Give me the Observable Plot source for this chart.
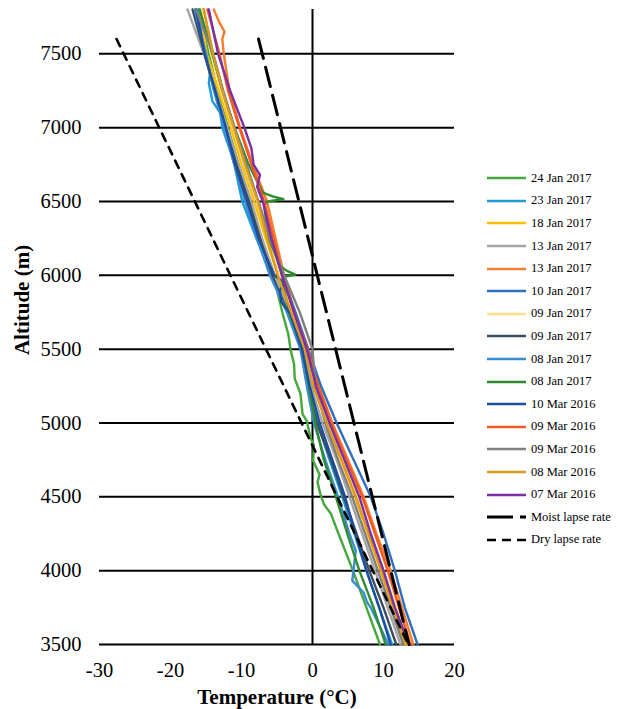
<!DOCTYPE html>
<html><head><meta charset="utf-8">
<script src="https://cdn.jsdelivr.net/npm/d3@7"></script>
<script src="https://cdn.jsdelivr.net/npm/@observablehq/plot@0.6"></script>
<style>
body{margin:0;background:#fff;}
#wrap{position:relative;width:618px;height:709px;overflow:hidden;}
#legend{position:absolute;left:487px;top:167px;font-family:"Liberation Serif",serif;font-size:12.5px;color:#000;}
.row{display:flex;align-items:center;height:22.6px;white-space:nowrap;}
.row svg{margin-right:4px;display:block;}
</style></head>
<body><div id="wrap"><div id="chart"></div><div id="legend"></div></div>
<script>
// ---- data ----
const altitudes = [3500,3750,4000,4250,4500,4750,5000,5250,5500,5750,6000,6250,6500,6750,7000,7250,7500,7800];

const alt24Jan2017 = [3500,3750,4000,4270,4385,4450,4520,4600,4650,4745,4850,4900,5015,5060,5200,5300,5400,5500,5600,5740,6000,6250,6500,6750,7000,7250,7500,7800];
const temp24Jan2017 = [9.5,7.6,5.7,3.5,2.6,1.6,1.1,0.7,1.0,0.1,0.2,-0.3,-0.8,-1.4,-1.7,-2.5,-2.6,-3.1,-3.4,-4.2,-5.5,-7.2,-8.8,-10.4,-11.9,-13.4,-14.6,-16.0];

const alt23Jan2017 = [3500,3750,4000,4250,4500,4750,5000,5250,5500,5750,6000,6250,6500,6750,6830,7000,7100,7180,7300,7390,7500,7650,7800];
const temp23Jan2017 = [11.2,9.4,7.6,5.9,4.2,2.4,0.7,-0.6,-1.5,-3.4,-5.8,-7.9,-9.9,-11.0,-11.5,-12.7,-13.0,-14.1,-14.6,-14.4,-14.9,-15.5,-16.2];

const temp18Jan2017 = [13.0,11.2,9.6,7.8,6.0,4.0,2.0,0.2,-1.2,-3.0,-4.8,-6.6,-8.2,-10.0,-11.5,-13.2,-14.9,-15.8];
const temp13Jan2017a = [12.4,10.6,8.8,7.0,5.2,3.4,1.4,-0.2,-1.3,-3.2,-5.3,-7.1,-8.6,-10.4,-12.0,-13.6,-15.3,-17.6];

const alt13Jan2017b = [3500,3750,4000,4250,4500,4750,5000,5250,5500,5750,6000,6250,6500,6750,7000,7250,7500,7600,7650,7720,7800];
const temp13Jan2017b = [14.2,12.6,11.0,9.0,7.2,5.0,2.8,0.9,-0.6,-2.5,-4.0,-5.2,-6.4,-8.4,-10.2,-11.7,-12.5,-12.7,-12.4,-13.2,-13.9];

const temp10Jan2017 = [14.8,13.0,11.6,10.0,8.2,5.8,3.4,1.2,-0.6,-2.4,-4.3,-6.0,-7.8,-9.6,-11.0,-12.6,-14.0,-15.4];
const temp09Jan2017a = [13.4,11.8,10.0,8.2,6.4,4.4,2.4,0.4,-1.0,-2.8,-4.6,-6.3,-7.8,-9.6,-11.2,-12.9,-14.3,-15.6];
const temp09Jan2017b = [11.8,10.0,8.0,6.2,4.4,2.6,0.6,-0.7,-1.6,-3.5,-5.7,-7.4,-9.0,-10.7,-12.3,-13.8,-15.2,-16.9];

const alt08Jan2017a = [3500,3750,3784,3852,3933,4136,4250,4500,4750,5000,5250,5500,5750,6000,6250,6500,6750,7000,7250,7500,7800];
const temp08Jan2017a = [10.7,8.2,7.7,7.2,5.6,6.1,5.2,3.6,1.8,0.2,-0.8,-1.7,-3.6,-6.0,-7.8,-9.5,-11.0,-12.4,-13.9,-15.0,-16.6];

const alt08Jan2017b = [3500,3750,4000,4250,4500,4750,5000,5250,5500,5750,5960,5990,6005,6030,6060,6250,6470,6500,6515,6535,6560,6750,7000,7250,7500,7800];
const temp08Jan2017b = [10.3,8.6,6.6,4.9,3.3,1.6,0.4,-0.5,-1.4,-3.3,-4.2,-4.0,-2.4,-3.6,-4.5,-6.2,-6.8,-6.4,-4.1,-5.6,-7.0,-9.0,-11.0,-12.7,-14.1,-15.9];

const alt10Mar2016 = [3500,3750,4000,4250,4500,4750,5000,5250,5500,5740,5820,5900,5950,6000,6250,6500,6750,7000,7250,7500,7800];
const temp10Mar2016 = [11.0,9.4,7.6,6.0,4.6,2.8,1.0,-0.4,-1.5,-3.1,-4.4,-4.6,-3.9,-5.4,-7.6,-9.2,-10.9,-12.2,-13.7,-15.2,-16.4];

const temp09Mar2016a = [13.8,12.2,10.6,8.8,7.0,4.8,2.6,0.8,-0.7,-2.6,-4.2,-5.5,-6.8,-8.6,-10.3,-11.9,-13.1,-14.8];
const temp09Mar2016b = [12.8,11.0,9.2,7.4,5.6,3.6,1.8,0.4,0.0,-1.8,-4.0,-6.0,-7.6,-9.3,-11.0,-12.6,-14.0,-16.4];
const temp08Mar2016 = [13.2,11.4,9.7,7.9,6.1,4.1,2.0,0.1,-1.1,-3.0,-4.9,-6.4,-7.7,-9.5,-11.1,-12.7,-14.0,-15.3];

const alt07Mar2016 = [3500,3750,4000,4250,4500,4750,5000,5250,5500,5750,6000,6250,6500,6600,6680,6750,6860,7000,7250,7500,7800];
const temp07Mar2016 = [13.6,11.6,10.0,8.2,6.6,4.5,2.4,0.5,-0.8,-2.6,-4.3,-5.8,-7.0,-7.8,-7.4,-8.3,-8.6,-9.6,-11.6,-13.3,-14.6];

const seriesLabels = ["24 Jan 2017","23 Jan 2017","18 Jan 2017","13 Jan 2017","13 Jan 2017","10 Jan 2017","09 Jan 2017","09 Jan 2017","08 Jan 2017","08 Jan 2017","10 Mar 2016","09 Mar 2016","09 Mar 2016","08 Mar 2016","07 Mar 2016"];
const seriesColors = ["#45a83a","#1f9bd7","#ffc000","#a5a5a5","#f47d30","#2f6fc0","#ffe08a","#3d4b5f","#3a8bd6","#2e8b2e","#1f4e9c","#f05a22","#7f7f7f","#dd9a1e","#7b2fa5"];
const seriesTemps = [temp24Jan2017,temp23Jan2017,temp18Jan2017,temp13Jan2017a,temp13Jan2017b,temp10Jan2017,temp09Jan2017a,temp09Jan2017b,temp08Jan2017a,temp08Jan2017b,temp10Mar2016,temp09Mar2016a,temp09Mar2016b,temp08Mar2016,temp07Mar2016];
const seriesAlts = [alt24Jan2017,alt23Jan2017,altitudes,altitudes,alt13Jan2017b,altitudes,altitudes,altitudes,alt08Jan2017a,alt08Jan2017b,alt10Mar2016,altitudes,altitudes,altitudes,alt07Mar2016];

const moistTemps = [-7.6, 13.6];
const moistAlts = [7600, 3500];
const dryTemps = [-27.6, 13.5];
const dryAlts = [7600, 3500];

const xTicks = [-30,-20,-10,0,10,20];
const yTicks = [3500,4000,4500,5000,5500,6000,6500,7000,7500];

// ---- chart ----
const toRows = (ts, as) => ts.map((t,j) => ({temp: t, alt: as[j]}));
const profileMarks = seriesTemps.map((ts,i) =>
  Plot.line(toRows(ts, seriesAlts[i]), {x:"temp", y:"alt", stroke: seriesColors[i], strokeWidth: 2.4, strokeLinejoin: "round"}));

const chart = Plot.plot({
  width: 618, height: 709,
  marginLeft: 99, marginRight: 164, marginTop: 9, marginBottom: 65,
  style: {fontFamily: "Liberation Serif, serif", fontSize: "20px", color: "#000", background: "#fff"},
  x: {domain: [-30, 20]},
  y: {domain: [3500, 7800]},
  marks: [
    Plot.ruleY(yTicks, {stroke: "#000", strokeWidth: 2}),
    Plot.ruleX([0], {stroke: "#000", strokeWidth: 2}),
    ...profileMarks,
    Plot.line(toRows(moistTemps, moistAlts), {x:"temp", y:"alt", stroke:"#000", strokeWidth: 3, strokeDasharray: "20,9"}),
    Plot.line(toRows(dryTemps, dryAlts), {x:"temp", y:"alt", stroke:"#000", strokeWidth: 2.6, strokeDasharray: "8,7"}),
    Plot.axisX(xTicks, {tickSize: 0, tickPadding: 18, fontSize: 20.5, label: null, tickFormat: d => String(d)}),
    Plot.axisY(yTicks, {tickSize: 0, tickPadding: 18, fontSize: 20.5, label: null, tickFormat: d => String(d)}),
    Plot.text(["Temperature (°C)"], {frameAnchor: "bottom", lineAnchor: "middle", dy: 53, fontSize: 21, fontWeight: "bold"}),
    Plot.text(["Altitude (m)"], {frameAnchor: "left", textAnchor: "middle", lineAnchor: "middle", rotate: -90, dx: -77, dy: -27, fontSize: 21, fontWeight: "bold"})
  ]
});
document.getElementById("chart").appendChild(chart);

// ---- legend ----
const legend = document.getElementById("legend");
const NS = "http://www.w3.org/2000/svg";
function addRow(label, color, dash, sw) {
  const row = document.createElement("div"); row.className = "row";
  const svg = document.createElementNS(NS, "svg");
  svg.setAttribute("width", 40); svg.setAttribute("height", 8);
  const ln = document.createElementNS(NS, "line");
  ln.setAttribute("x1", 0); ln.setAttribute("x2", 39); ln.setAttribute("y1", 4); ln.setAttribute("y2", 4);
  ln.setAttribute("stroke", color); ln.setAttribute("stroke-width", sw);
  if (dash) ln.setAttribute("stroke-dasharray", dash);
  svg.appendChild(ln); row.appendChild(svg);
  const span = document.createElement("span"); span.textContent = label; row.appendChild(span);
  legend.appendChild(row);
}
seriesLabels.forEach((l,i) => addRow(l, seriesColors[i], null, 2.6));
addRow("Moist lapse rate", "#000", "26,7", 3);
addRow("Dry lapse rate", "#000", "9,6", 2.6);
</script>
</body></html>
